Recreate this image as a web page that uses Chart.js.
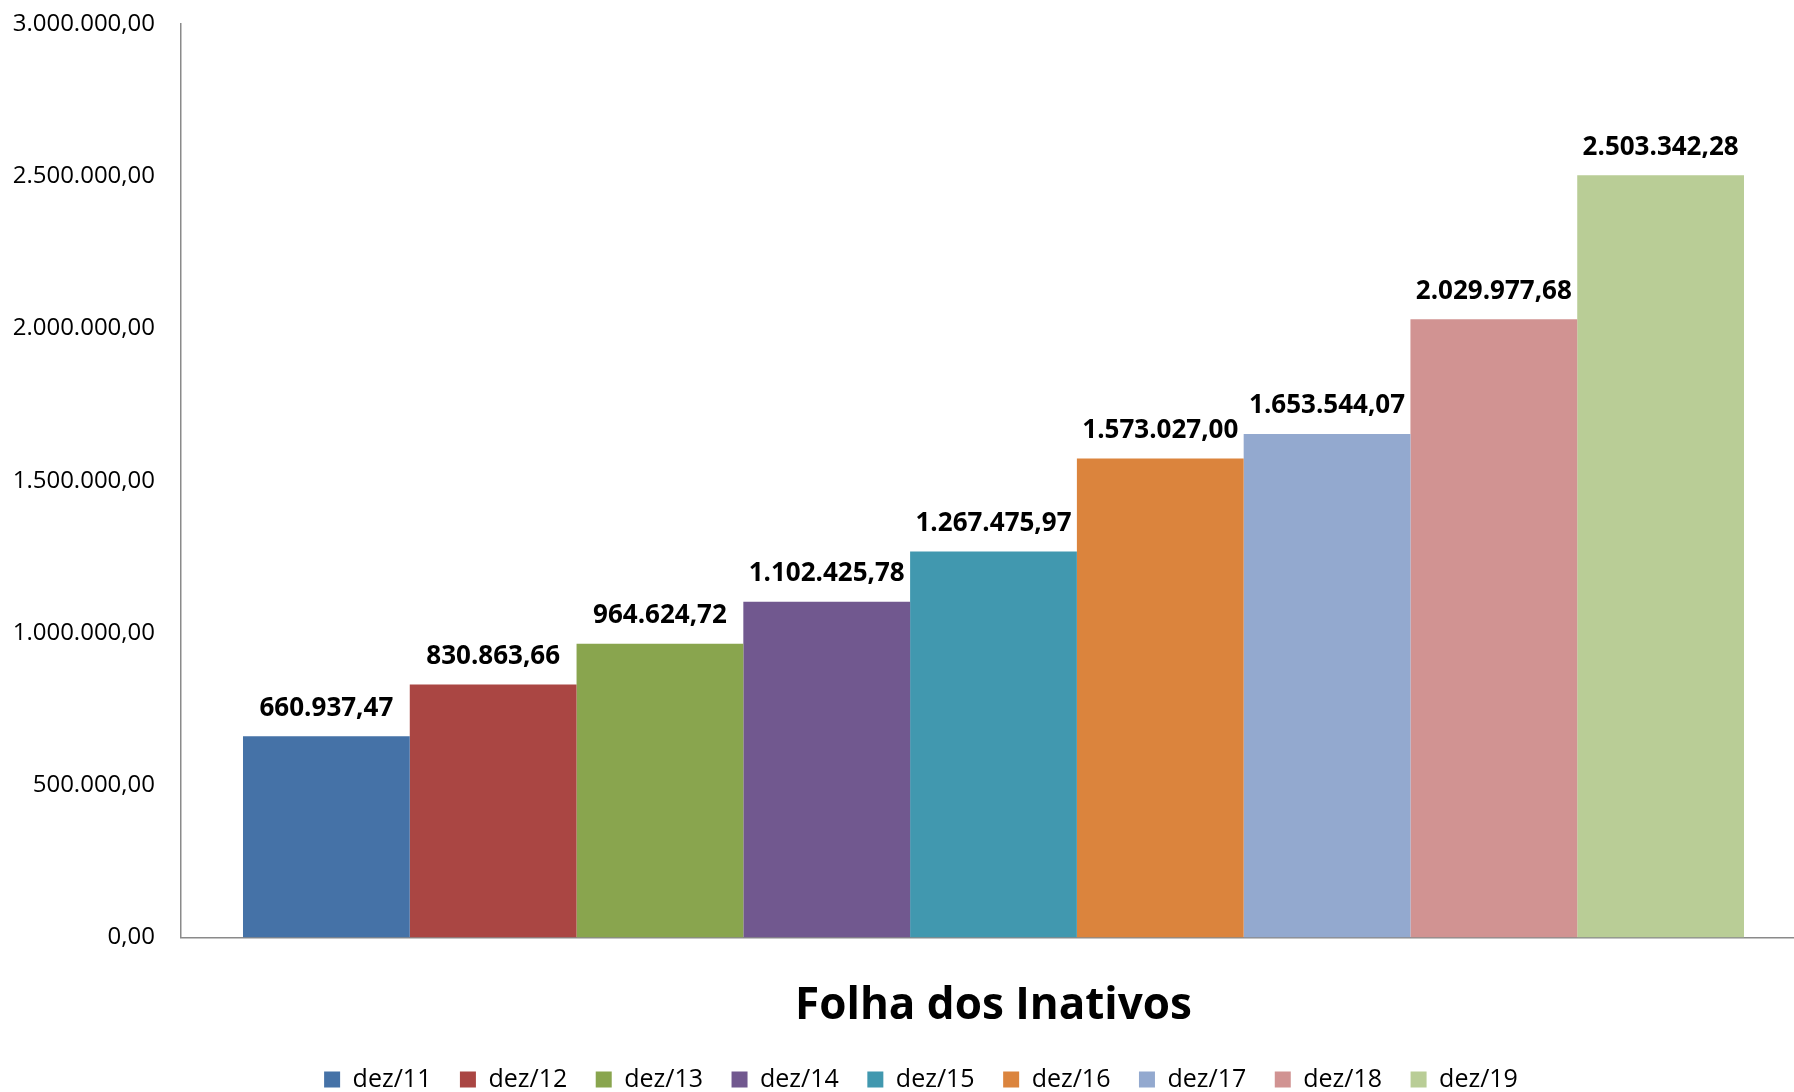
<!DOCTYPE html>
<html>
<head>
<meta charset="utf-8">
<title>Folha dos Inativos</title>
<script src="https://cdn.jsdelivr.net/npm/chart.js@4/dist/chart.umd.min.js"></script>
<style>
  html, body { margin: 0; padding: 0; background: #ffffff; overflow: hidden; }
  #wrap { width: 1806px; height: 1102px; }
</style>
</head>
<body>
<div id="wrap"><canvas id="chart" width="1806" height="1102"></canvas></div>
<script>
// Series: one bar per December, each its own dataset so the legend lists them
const periods = ["dez/11", "dez/12", "dez/13", "dez/14", "dez/15", "dez/16", "dez/17", "dez/18", "dez/19"];
const payroll = [660937.47, 830863.66, 964624.72, 1102425.78, 1267475.97, 1573027.00, 1653544.07, 2029977.68, 2503342.28];
const barColors = ["#4572A7", "#AA4643", "#89A54E", "#71588F", "#4198AF", "#DB843D", "#93A9CF", "#D19392", "#B9CD96"];
const chartTitle = "Folha dos Inativos";

// y axis range
const yMin = 0;
const yMax = 3000000;
const yStep = 500000;

const fontFamily = "'Open Sans', 'Noto Sans', sans-serif";
const axisColor = "#8a8a8a";

// 1234567.8 -> "1.234.567,80"
function formatBR(value) {
  const parts = Number(value).toFixed(2).split(".");
  parts[0] = parts[0].replace(/\B(?=(\d{3})+(?!\d))/g, ".");
  return parts[0] + "," + parts[1];
}

// Writes the value above each bar
const valueLabels = {
  id: "valueLabels",
  afterDatasetsDraw: function(chart) {
    const ctx = chart.ctx;
    ctx.save();
    ctx.font = "bold 26px " + fontFamily;
    ctx.fillStyle = "#000000";
    ctx.textAlign = "center";
    ctx.textBaseline = "middle";
    chart.data.datasets.forEach(function(ds, i) {
      const meta = chart.getDatasetMeta(i);
      meta.data.forEach(function(bar, j) {
        ctx.fillText(formatBR(ds.data[j]), bar.x, bar.y - 28);
      });
    });
    ctx.restore();
  }
};

// The legend sits a bit right of the canvas centre in the original
const legendShift = {
  id: "legendShift",
  afterLayout: function(chart) {
    if (chart.legend) {
      chart.legend.left += 12;
      chart.legend.right += 12;
    }
  }
};

const datasets = periods.map(function(label, i) {
  return {
    label: label,
    data: [payroll[i]],
    backgroundColor: barColors[i],
    borderWidth: 0
  };
});

new Chart(document.getElementById("chart").getContext("2d"), {
  type: "bar",
  data: {
    labels: [""],
    datasets: datasets
  },
  plugins: [valueLabels, legendShift],
  options: {
    responsive: false,
    animation: false,
    devicePixelRatio: 1,
    categoryPercentage: 0.9237,
    barPercentage: 1,
    layout: { padding: { left: 12, top: 24, right: 0, bottom: 0 } },
    plugins: {
      tooltip: { enabled: false },
      title: { display: false },
      legend: {
        position: "bottom",
        labels: {
          boxWidth: 16,
          boxHeight: 16,
          padding: 28.5,
          color: "#000000",
          font: { family: fontFamily, size: 25 }
        }
      }
    },
    scales: {
      x: {
        grid: { display: false, drawTicks: false },
        border: { display: true, color: axisColor, width: 1.5 },
        ticks: { display: false },
        title: {
          display: true,
          text: chartTitle,
          color: "#000000",
          font: { family: fontFamily, size: 44, weight: "bold" },
          padding: { top: 0, bottom: 6 }
        },
        afterFit: function(scale) { scale.height = 101; }
      },
      y: {
        min: yMin,
        max: yMax,
        grid: { display: false, drawTicks: false },
        border: { display: true, color: axisColor, width: 1.5 },
        ticks: {
          stepSize: yStep,
          padding: 26,
          color: "#000000",
          font: { family: fontFamily, size: 24 },
          callback: function(value) { return formatBR(value); }
        },
        afterFit: function(scale) {
          // tick padding is horizontal only here; don't let it push the plot down
          scale.width = 169;
          scale.paddingTop = 0;
          scale.paddingBottom = 0;
        }
      }
    }
  }
});
</script>
</body>
</html>
